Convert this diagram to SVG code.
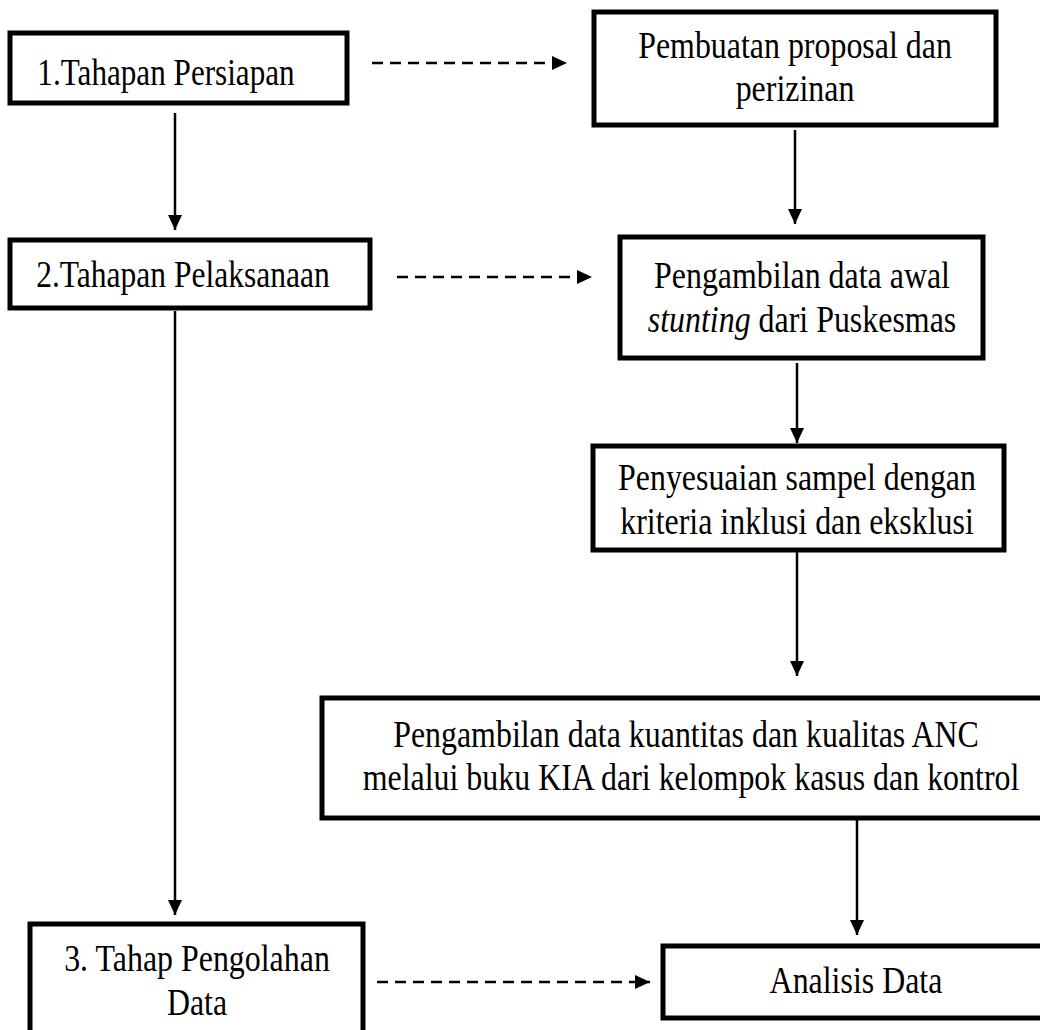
<svg xmlns="http://www.w3.org/2000/svg" width="1040" height="1030" viewBox="0 0 1040 1030">
<style>
.box{fill:#fff;stroke:#000;stroke-width:5}
.t{font-family:"Liberation Serif","Times New Roman",serif;font-size:38px;fill:#000;text-anchor:middle}
.c{stroke:#000;stroke-width:2.5;fill:none}
.d{stroke:#000;stroke-width:2.5;fill:none;stroke-dasharray:11 7}
</style>
<defs>
<marker id="ah" viewBox="0 0 15 14" refX="15" refY="7" markerWidth="15" markerHeight="14" markerUnits="userSpaceOnUse" orient="auto">
<path d="M0,0 L15,7 L0,14 Z" fill="#000"/>
</marker>
</defs>
<rect width="1040" height="1030" fill="#fff"/>
<g id="connectors">
<line class="d" x1="372" y1="63" x2="567" y2="63" marker-end="url(#ah)"/>
<line class="c" x1="175" y1="113" x2="175" y2="230" marker-end="url(#ah)"/>
<line class="c" x1="795" y1="130" x2="795" y2="224" marker-end="url(#ah)"/>
<line class="d" x1="397" y1="277" x2="592" y2="277" marker-end="url(#ah)"/>
<line class="c" x1="797" y1="363" x2="797" y2="443" marker-end="url(#ah)"/>
<line class="c" x1="797" y1="552" x2="797" y2="676" marker-end="url(#ah)"/>
<line class="c" x1="857" y1="820" x2="857" y2="935" marker-end="url(#ah)"/>
<line class="c" x1="175" y1="311" x2="175" y2="915" marker-end="url(#ah)"/>
<line class="d" x1="377" y1="982" x2="650" y2="982" marker-end="url(#ah)"/>
</g>
<g id="n1">
<rect class="box" x="10" y="33" width="337" height="70"/>
<text class="t" transform="translate(166,85) scale(0.82,1)">1.Tahapan Persiapan</text>
</g>
<g id="n2">
<rect class="box" x="594" y="12" width="402" height="113"/>
<text class="t" transform="translate(795,58) scale(0.84,1)">Pembuatan proposal dan</text>
<text class="t" transform="translate(795,101) scale(0.84,1)">perizinan</text>
</g>
<g id="n3">
<rect class="box" x="10" y="240" width="360" height="68"/>
<text class="t" transform="translate(183,287) scale(0.83,1)">2.Tahapan Pelaksanaan</text>
</g>
<g id="n4">
<rect class="box" x="620" y="237" width="363" height="121"/>
<text class="t" transform="translate(802,288) scale(0.84,1)">Pengambilan data awal</text>
<text class="t" transform="translate(802,332) scale(0.84,1)"><tspan font-style="italic">stunting</tspan> dari Puskesmas</text>
</g>
<g id="n5">
<rect class="box" x="593" y="446" width="411" height="104"/>
<text class="t" transform="translate(797,490) scale(0.84,1)">Penyesuaian sampel dengan</text>
<text class="t" transform="translate(797,534) scale(0.84,1)">kriteria inklusi dan eksklusi</text>
</g>
<g id="n6">
<rect class="box" x="322" y="698" width="730" height="120"/>
<text class="t" transform="translate(686,747) scale(0.84,1)">Pengambilan data kuantitas dan kualitas ANC</text>
<text class="t" transform="translate(691,790) scale(0.84,1)">melalui buku KIA dari kelompok kasus dan kontrol</text>
</g>
<g id="n7">
<rect class="box" x="30" y="924" width="333" height="120"/>
<text class="t" transform="translate(197,971) scale(0.84,1)">3. Tahap Pengolahan</text>
<text class="t" transform="translate(197,1015) scale(0.84,1)">Data</text>
</g>
<g id="n8">
<rect class="box" x="663" y="946" width="385" height="72"/>
<text class="t" transform="translate(856,993) scale(0.84,1)">Analisis Data</text>
</g>
</svg>
